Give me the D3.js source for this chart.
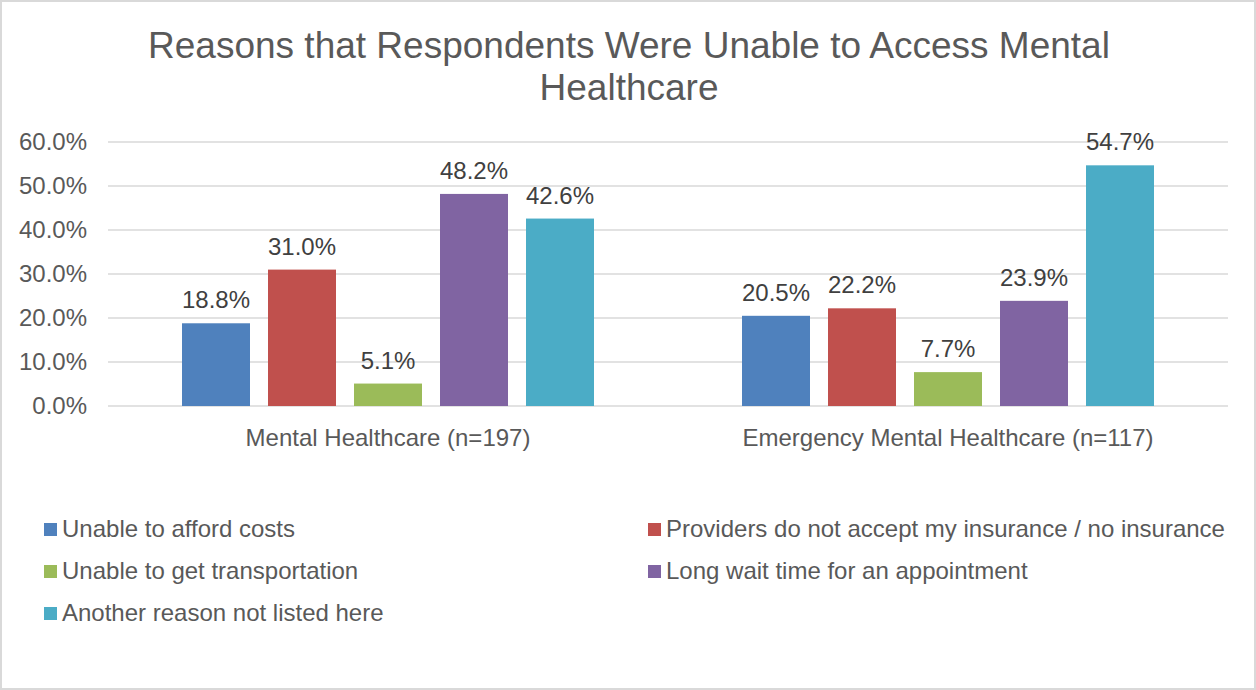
<!DOCTYPE html>
<html>
<head>
<meta charset="utf-8">
<script src="https://cdn.jsdelivr.net/npm/d3@7"></script>
<style>
  html, body { margin: 0; padding: 0; background: #fff; }
  svg { display: block; font-family: "Liberation Sans", Arial, sans-serif; }
</style>
</head>
<body>
<svg id="chart" width="1256" height="690"></svg>
<script>
// Survey groups along the x axis
const categories = ["Mental Healthcare (n=197)", "Emergency Mental Healthcare (n=117)"];

// Reasons (one series per reason)
const seriesNames = [
  "Unable to afford costs",
  "Providers do not accept my insurance / no insurance",
  "Unable to get transportation",
  "Long wait time for an appointment",
  "Another reason not listed here"
];

// Percent of respondents, per series, per category
const afford = [18.8, 20.5];
const insurance = [31.0, 22.2];
const transport = [5.1, 7.7];
const waitTime = [48.2, 23.9];
const otherReason = [42.6, 54.7];

const yTicks = [0, 10, 20, 30, 40, 50, 60];
const colors = ["#4F81BD", "#C0504D", "#9BBB59", "#8064A2", "#4BACC6"];

const seriesValues = [afford, insurance, transport, waitTime, otherReason];

const svg = d3.select("#chart");
const W = 1256, H = 690;

// outer frame
svg.append("rect")
  .attr("x", 1).attr("y", 1)
  .attr("width", W - 2).attr("height", H - 2)
  .attr("fill", "#fff").attr("stroke", "#D9D9D9").attr("stroke-width", 2);

// title
svg.append("text")
  .attr("text-anchor", "middle")
  .attr("fill", "#595959").attr("font-size", 37)
  .selectAll("tspan")
  .data(["Reasons that Respondents Were Unable to Access Mental", "Healthcare"])
  .join("tspan")
  .attr("x", 629)
  .attr("y", (d, i) => 58 + i * 42)
  .text(d => d);

const plot = { left: 108, right: 1228, top: 142, bottom: 406 };

const x0 = d3.scaleBand().domain(categories).range([plot.left, plot.right]).padding(0);
const x1 = d3.scaleBand().domain(d3.range(seriesNames.length))
  .range([74, 560 - 74]).paddingInner(18 / 86).paddingOuter(0);
const y = d3.scaleLinear().domain([0, 60]).range([plot.bottom, plot.top]);

// gridlines
svg.append("g")
  .selectAll("line")
  .data(yTicks)
  .join("line")
  .attr("x1", plot.left).attr("x2", plot.right)
  .attr("y1", d => y(d)).attr("y2", d => y(d))
  .attr("stroke", "#D9D9D9").attr("stroke-width", 1.5);

// y axis labels
const yAxis = d3.axisLeft(y).tickValues(yTicks).tickSize(0).tickPadding(0)
  .tickFormat(d => d.toFixed(1) + "%");
const yg = svg.append("g").attr("transform", `translate(87,0)`).call(yAxis);
yg.select(".domain").remove();
yg.selectAll("text")
  .attr("fill", "#595959").attr("font-size", 24)
  .attr("font-family", "Liberation Sans, Arial, sans-serif");

// x axis labels
const xAxis = d3.axisBottom(x0).tickSize(0).tickPadding(0);
const xg = svg.append("g").attr("transform", `translate(0,${plot.bottom + 23})`).call(xAxis);
xg.select(".domain").remove();
xg.selectAll("text")
  .attr("fill", "#595959").attr("font-size", 24)
  .attr("font-family", "Liberation Sans, Arial, sans-serif");

// bars
const rows = [];
categories.forEach((c, ci) => {
  seriesValues.forEach((vals, si) => rows.push({ cat: c, s: si, v: vals[ci] }));
});

svg.append("g")
  .selectAll("rect")
  .data(rows)
  .join("rect")
  .attr("x", d => x0(d.cat) + x1(d.s))
  .attr("width", x1.bandwidth())
  .attr("y", d => y(d.v))
  .attr("height", d => y(0) - y(d.v))
  .attr("fill", d => colors[d.s]);

// value labels
svg.append("g")
  .selectAll("text")
  .data(rows)
  .join("text")
  .attr("x", d => x0(d.cat) + x1(d.s) + x1.bandwidth() / 2)
  .attr("y", d => y(d.v) - 15)
  .attr("text-anchor", "middle")
  .attr("fill", "#404040").attr("font-size", 24)
  .text(d => d.v.toFixed(1) + "%");

// legend (two columns)
const legend = svg.append("g")
  .selectAll("g")
  .data(seriesNames)
  .join("g")
  .attr("transform", (d, i) => `translate(${i % 2 === 0 ? 44 : 648},${529 + Math.floor(i / 2) * 42})`);

legend.append("rect")
  .attr("x", 0).attr("y", -6)
  .attr("width", 13).attr("height", 13)
  .attr("fill", (d, i) => colors[i]);

legend.append("text")
  .attr("x", 18).attr("y", 8)
  .attr("fill", "#595959").attr("font-size", 24)
  .text(d => d);
</script>
</body>
</html>
